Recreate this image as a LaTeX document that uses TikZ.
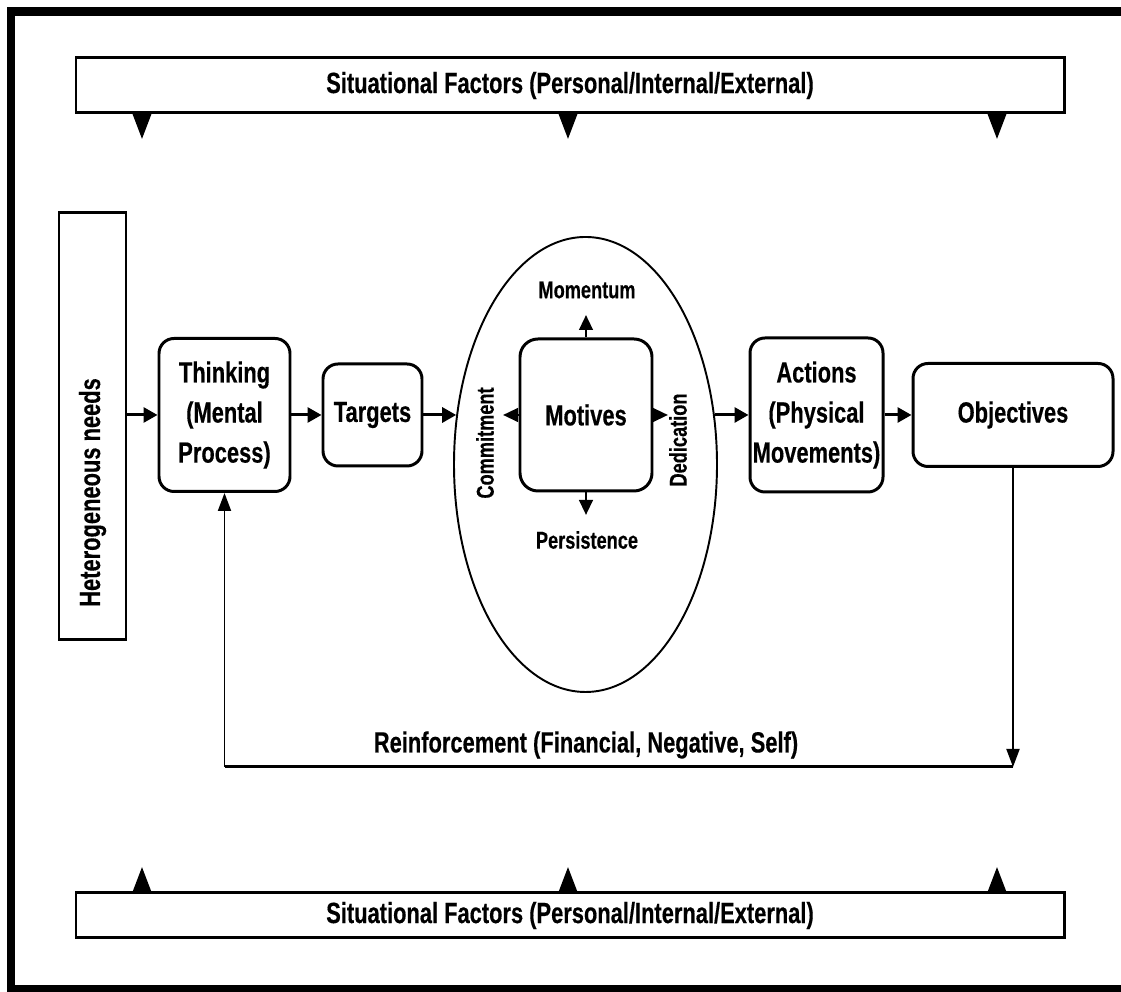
\documentclass[tikz,border=0pt]{standalone}
\usepackage{fontspec}
\setmainfont[FakeStretch=0.75, BoldFeatures={FakeBold=0.4}]{Liberation Sans}
\usetikzlibrary{positioning, shapes.geometric, arrows.meta, calc}

\newcommand{\bigtxt}{\fontsize{16.6}{22.8}\selectfont\bfseries}
\newcommand{\smalltxt}{\fontsize{13.8}{15}\selectfont\bfseries}

\tikzset{
    stage/.style={draw, line width=1.7pt, rounded corners=0.3cm, align=center, inner sep=0pt, font=\bigtxt},
    bar/.style={draw, line width=1.7pt, minimum width=19.76cm, inner sep=0pt, font=\bigtxt},
    flow/.style={line width=1.7pt, -{Triangle[length=0.28cm, width=0.3cm]}},
    spread/.style={line width=1.5pt, -{Triangle[length=0.3cm, width=0.27cm]}},
    factor/.style={line width=1.5pt, -{Triangle[length=0.52cm, width=0.38cm]}},
    loopline/.style={line width=1.1pt, -{Triangle[length=0.36cm, width=0.26cm]}},
}

\begin{document}
\begin{tikzpicture}
    \useasboundingbox (0,0) rectangle (22.42,19.84);
    % Outer frame, open on the right
    \draw[line width=0.18cm] (23,19.6) -- (0.22,19.6) -- (0.22,0.04) -- (23,0.04);

    % Situational factor bars
    \node[bar, minimum height=1.1cm] (topbar) at (11.4,18.13) {Situational Factors (Personal/Internal/External)};
    \node[bar, minimum height=0.9cm] (botbar) at (11.4,1.53) {Situational Factors (Personal/Internal/External)};
    \foreach \x/\n in {2.84/a, 11.36/b, 19.94/c} {
        \coordinate (down\n) at (\x,17.06);
        \coordinate (up\n) at (\x,2.5);
        \draw[factor] (down\n |- topbar.south) -- (down\n);
        \draw[factor] (up\n |- botbar.north) -- (up\n);
    }

    % Needs bar
    \node[draw, line width=1.7pt, minimum width=1.34cm, minimum height=8.54cm] (needs) at (1.85,11.31) {};
    \node[rotate=90, font=\bigtxt] (needstext) at (1.85,9.99) {Heterogeneous needs};

    % Main chain
    \node[stage, minimum width=2.62cm, minimum height=3.06cm] (thinking) at (4.49,11.54) {Thinking\\(Mental\\Process)};
    \node[stage, minimum width=1.98cm, minimum height=2.04cm] (targets) at (7.45,11.54) {Targets};
    \node[draw, ellipse, line width=1.1pt, minimum width=5.26cm, minimum height=9.1cm, inner sep=0pt] (zone) at (11.71,10.55) {};
    \node[stage, minimum width=2.64cm, minimum height=3.04cm, rounded corners=0.36cm] (motives) at (11.72,11.54) {Motives};
    \node[stage, minimum width=2.66cm, minimum height=3.08cm] (actions) at (16.33,11.54) {Actions\\(Physical\\Movements)};
    \node[stage, minimum width=4.0cm, minimum height=2.06cm] (objectives) at (20.26,11.54) {Objectives};

    % Labels round the motives box
    \node[font=\smalltxt] (momentum) at (11.74,14.04) {Momentum};
    \node[font=\smalltxt] (persistence) at (11.74,9.04) {Persistence};
    \node[font=\smalltxt, rotate=90] (commitment) at (9.7,10.98) {Commitment};
    \node[font=\smalltxt, rotate=90] (dedication) at (13.56,11.04) {Dedication};
    \coordinate (mtip) at (11.72,13.54);
    \coordinate (ptip) at (11.72,9.54);
    \coordinate (ctip) at (10.06,11.54);
    \coordinate (dtip) at (13.36,11.54);
    \draw[spread] (motives.north) -- (mtip);
    \draw[spread] (motives.south) -- (ptip);
    \draw[spread] (motives.west) -- (ctip);
    \draw[spread] (motives.east) -- (dtip);

    % Flow connectors
    \draw[flow] (needs.east |- thinking.west) -- (thinking.west);
    \draw[flow] (thinking.east) -- (targets.west);
    \draw[flow] (targets.east) -- (targets.east -| zone.159);
    \draw[flow] (zone.21 |- actions.west) -- (actions.west);
    \draw[flow] (actions.east) -- (objectives.west);

    % Reinforcement loop back to thinking
    \coordinate (loopbase) at (0,4.5);
    \coordinate (loopR) at (objectives.south |- loopbase);
    \coordinate (loopL) at (thinking.south |- loopbase);
    \draw[loopline] (objectives.south) -- (loopR);
    \draw[line width=1.7pt] (loopR) -- (loopL);
    \draw[loopline] (loopL) -- (thinking.south);
    \node[font=\bigtxt] (reinforce) at (11.72,4.94) {Reinforcement (Financial, Negative, Self)};
\end{tikzpicture}
\end{document}
